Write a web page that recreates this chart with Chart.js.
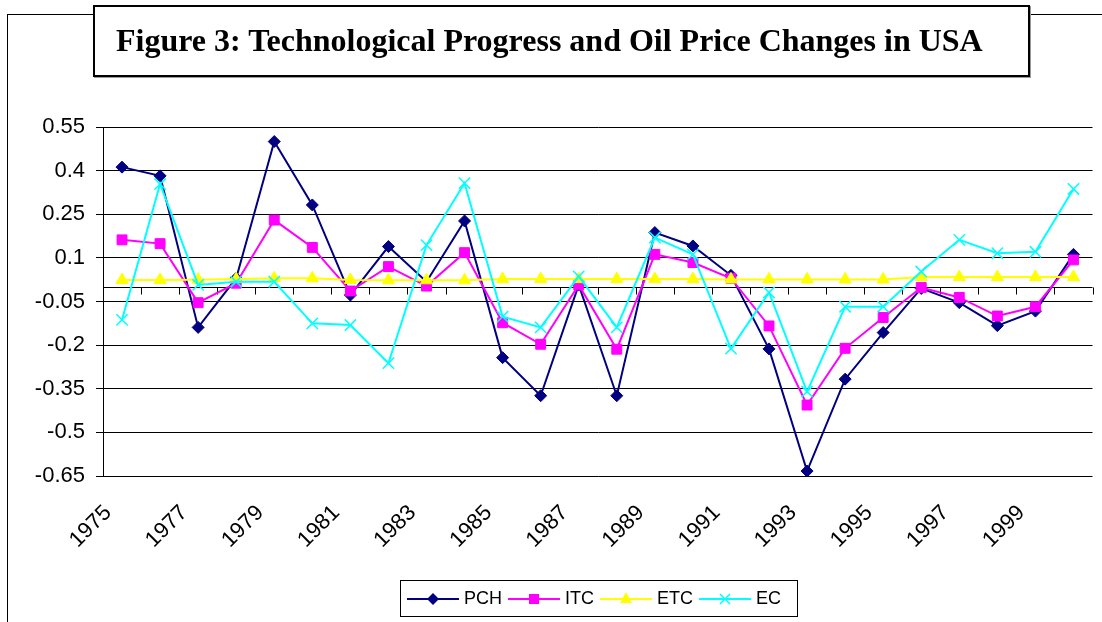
<!DOCTYPE html>
<html>
<head>
<meta charset="utf-8">
<script src="https://cdn.jsdelivr.net/npm/chart.js@4.4.1/dist/chart.umd.min.js"></script>
<style>
  html, body { margin: 0; padding: 0; background: #fff; }
  #wrap { position: relative; width: 1102px; height: 622px; overflow: hidden; }
  #frame { position: absolute; left: 7px; top: 14px; width: 1200px; height: 700px;
           border-left: 1px solid #000; border-top: 1px solid #000; }
  #chart { position: absolute; left: 0; top: 0; }
  #title { position: absolute; left: 93px; top: 5px; width: 937px; height: 72px;
           border: 2px solid #000; background: #fff; box-shadow: 1px 1px 0 #999;
           box-sizing: border-box; padding-left: 21px; white-space: nowrap;
           font: bold 32px "Liberation Serif", "Times New Roman", serif; line-height: 66px; }
  #legend { position: absolute; left: 400px; top: 580px; width: 398px; height: 37px;
            border: 1px solid #000; box-sizing: border-box; display: flex; align-items: center;
            padding-left: 6px; font: 18px "Liberation Sans", Arial, sans-serif; }
  #legend .item { display: flex; align-items: center; margin-right: 6px; }
  #legend svg { margin-right: 5px; }
</style>
</head>
<body>
<div id="wrap">
  <div id="frame"></div>
  <canvas id="chart" width="1102" height="622"></canvas>
  <div id="title">Figure 3: Technological Progress and Oil Price Changes in USA</div>
  <div id="legend"></div>
</div>
<script>
// ── Data ────────────────────────────────────────────────────────
const years = ['1975','1976','1977','1978','1979','1980','1981','1982','1983','1984',
               '1985','1986','1987','1988','1989','1990','1991','1992','1993','1994',
               '1995','1996','1997','1998','1999','2000'];

const pch = [0.412, 0.382, -0.139, 0.030, 0.500, 0.282, -0.028, 0.139, 0.018, 0.227,
             -0.243, -0.374, 0.007, -0.374, 0.187, 0.141, 0.040, -0.213, -0.633, -0.317,
             -0.157, -0.005, -0.054, -0.133, -0.083, 0.112];
const itc = [0.162, 0.149, -0.054, 0.013, 0.230, 0.136, -0.014, 0.070, 0.003, 0.118,
             -0.123, -0.197, 0.007, -0.214, 0.112, 0.084, 0.030, -0.134, -0.406, -0.211,
             -0.105, -0.002, -0.036, -0.100, -0.068, 0.093];
const etc = [0.024, 0.024, 0.025, 0.027, 0.030, 0.030, 0.024, 0.023, 0.023, 0.023,
             0.027, 0.027, 0.027, 0.027, 0.027, 0.027, 0.026, 0.026, 0.026, 0.026,
             0.026, 0.034, 0.034, 0.034, 0.034, 0.034];
const ec  = [-0.113, 0.354, 0.007, 0.018, 0.018, -0.125, -0.131, -0.262, 0.144, 0.357,
             -0.102, -0.139, 0.036, -0.139, 0.170, 0.112, -0.212, -0.019, -0.360, -0.068,
             -0.068, 0.053, 0.162, 0.116, 0.121, 0.337];

const yTicks = [-0.65, -0.5, -0.35, -0.2, -0.05, 0.1, 0.25, 0.4, 0.55];

const FONT = "'Liberation Sans', Arial, sans-serif";

// ── Zero line with category tick marks ──────────────────────────
const zeroAxis = {
    id: 'zeroAxis',
    beforeDatasetsDraw(chart) {
        const { ctx, chartArea: a, scales: { x, y } } = chart;
        const y0 = Math.round(y.getPixelForValue(0)) + 0.5;
        ctx.save();
        ctx.strokeStyle = '#000';
        ctx.lineWidth = 1;
        ctx.beginPath();
        ctx.moveTo(a.left, y0);
        ctx.lineTo(a.right, y0);
        const step = x.getPixelForValue(1) - x.getPixelForValue(0);
        for (let i = 0; i <= years.length; i++) {
            const px = Math.round(x.getPixelForValue(i) - step / 2) + 0.5;
            ctx.moveTo(px, y0);
            ctx.lineTo(px, y0 + 7);
        }
        ctx.stroke();
        ctx.restore();
    }
};

function series(label, data, color, style, radius, order) {
    return {
        label, data, order,
        borderColor: color,
        backgroundColor: color,
        borderWidth: 2,
        pointStyle: style,
        pointRadius: radius,
        pointHoverRadius: radius,
        pointBackgroundColor: color,
        pointBorderColor: color,
        pointBorderWidth: style === 'crossRot' ? 1.5 : 1,
        tension: 0,
        fill: false
    };
}

const chart = new Chart(document.getElementById('chart'), {
    type: 'line',
    data: {
        labels: years,
        datasets: [
            series('PCH', pch, '#000080', 'rectRot', 6, 3),
            series('ITC', itc, '#FF00FF', 'rect', 7, 2),
            series('ETC', etc, '#FFFF00', 'triangle', 7, 1),
            series('EC',  ec,  '#00FFFF', 'crossRot', 8, 0)
        ]
    },
    options: {
        responsive: false,
        animation: false,
        layout: { padding: { left: 0, top: 127, right: 8, bottom: 0 } },
        plugins: {
            legend: { display: false },
            tooltip: { enabled: false }
        },
        scales: {
            x: {
                offset: true,
                grid: { display: false, drawTicks: false },
                border: { display: false },
                afterFit: (s) => { s.height = 146; s.paddingLeft = 0; s.paddingRight = 0; },
                ticks: {
                    autoSkip: false,
                    maxRotation: 45, minRotation: 45,
                    padding: 24,
                    labelOffset: -14,
                    color: '#000',
                    font: { family: FONT, size: 22 },
                    callback: (v, i) => i % 2 === 0 ? years[i] : ''
                }
            },
            y: {
                min: -0.65, max: 0.55,
                afterBuildTicks: (s) => { s.ticks = yTicks.map(v => ({ value: v })); },
                afterFit: (s) => { s.width = 103; },
                grid: { color: '#000', lineWidth: 1, tickLength: 7 },
                border: { display: true, color: '#000', width: 1 },
                ticks: {
                    padding: 11,
                    color: '#000',
                    font: { family: FONT, size: 22 },
                    callback: (v) => String(Math.round(v * 100) / 100)
                }
            }
        }
    },
    plugins: [zeroAxis]
});

// ── HTML legend (line + marker, like the original) ──────────────
function markerSvg(ds) {
    const c = ds.borderColor, cx = 26, cy = 8;
    let m = '';
    if (ds.pointStyle === 'rectRot') m = `<polygon points="${cx},${cy-6} ${cx+6},${cy} ${cx},${cy+6} ${cx-6},${cy}" fill="${c}"/>`;
    else if (ds.pointStyle === 'rect') m = `<rect x="${cx-5}" y="${cy-5}" width="10" height="10" fill="${c}"/>`;
    else if (ds.pointStyle === 'triangle') m = `<polygon points="${cx},${cy-7} ${cx+6},${cy+4} ${cx-6},${cy+4}" fill="${c}"/>`;
    else m = `<path d="M${cx-5} ${cy-5}L${cx+5} ${cy+5}M${cx+5} ${cy-5}L${cx-5} ${cy+5}" stroke="${c}" stroke-width="1.5"/>`;
    return `<svg width="52" height="16"><line x1="0" y1="${cy}" x2="52" y2="${cy}" stroke="${c}" stroke-width="2"/>${m}</svg>`;
}

document.getElementById('legend').innerHTML = chart.data.datasets.map(ds =>
    `<div class="item">${markerSvg(ds)}<span>${ds.label}</span></div>`).join('');
</script>
</body>
</html>
